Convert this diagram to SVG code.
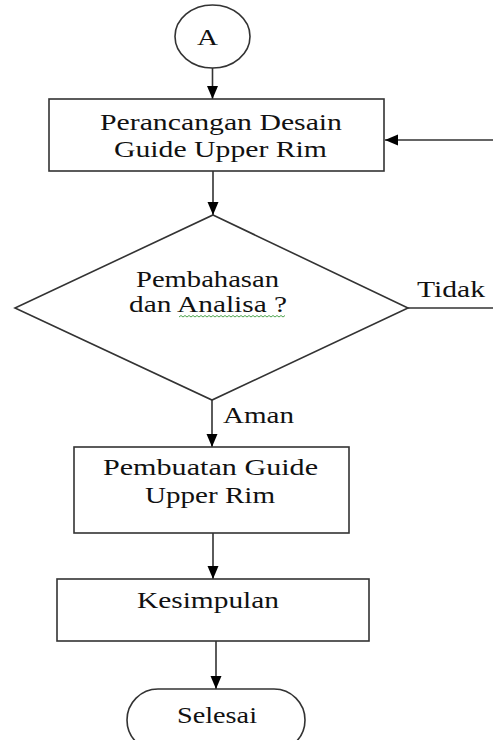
<svg xmlns="http://www.w3.org/2000/svg" width="493" height="740" viewBox="0 0 493 740">
<style>
.sh{fill:#fff;stroke:#333;stroke-width:1.6}
.t{font-family:"Liberation Serif","Times New Roman",serif;font-size:24px;fill:#111}
.c{fill:none;stroke:#333;stroke-width:1.6}
</style>
<defs>
<marker id="ah" markerUnits="userSpaceOnUse" markerWidth="14" markerHeight="14" viewBox="0 0 14 14" refX="13" refY="7" orient="auto">
<path d="M0,1.5 L13,7 L0,12.5 Z" fill="#000"/>
</marker>
</defs>
<rect width="493" height="740" fill="#fff"/>
<g id="connectors">
<path class="c" d="M212.5,68 V99" marker-end="url(#ah)"/>
<path class="c" d="M213,171 V215" marker-end="url(#ah)"/>
<path class="c" d="M212,400 V447" marker-end="url(#ah)"/>
<path class="c" d="M213,533 V579" marker-end="url(#ah)"/>
<path class="c" d="M216,641 V689" marker-end="url(#ah)"/>
<path class="c" d="M408,308 H497 V140 H385" marker-end="url(#ah)"/>
<text class="t" x="417" y="297" textLength="68" lengthAdjust="spacingAndGlyphs">Tidak</text>
<text class="t" x="223" y="423" textLength="71" lengthAdjust="spacingAndGlyphs">Aman</text>
</g>
<g id="start">
<ellipse class="sh" cx="212.5" cy="36.5" rx="37.5" ry="31.5"/>
<text class="t" x="197" y="45" textLength="21" lengthAdjust="spacingAndGlyphs">A</text>
</g>
<g id="perancangan">
<rect class="sh" x="49" y="99" width="335" height="72"/>
<text class="t" x="100" y="130" textLength="242" lengthAdjust="spacingAndGlyphs">Perancangan Desain</text>
<text class="t" x="114" y="157" textLength="213" lengthAdjust="spacingAndGlyphs">Guide Upper Rim</text>
</g>
<g id="pembahasan">
<polygon class="sh" points="213,215 408,308 212,400 15,308"/>
<text class="t" x="136" y="287" textLength="143" lengthAdjust="spacingAndGlyphs">Pembahasan</text>
<text class="t" x="129" y="312" textLength="158" lengthAdjust="spacingAndGlyphs">dan Analisa ?</text>
<path d="M179,317 l2,-1.5 l2,1.5 l2,-1.5 l2,1.5 l2,-1.5 l2,1.5 l2,-1.5 l2,1.5 l2,-1.5 l2,1.5 l2,-1.5 l2,1.5 l2,-1.5 l2,1.5 l2,-1.5 l2,1.5 l2,-1.5 l2,1.5 l2,-1.5 l2,1.5 l2,-1.5 l2,1.5 l2,-1.5 l2,1.5 l2,-1.5 l2,1.5 l2,-1.5 l2,1.5 l2,-1.5 l2,1.5 l2,-1.5 l2,1.5 l2,-1.5 l2,1.5 l2,-1.5 l2,1.5 l2,-1.5 l2,1.5 l2,-1.5 l2,1.5 l2,-1.5 l2,1.5 l2,-1.5 l2,1.5 l2,-1.5 l2,1.5 l2,-1.5 l2,1.5 l2,-1.5 l2,1.5 l2,-1.5 l2,1.5 l2,-1.5" fill="none" stroke="#3a9a3a" stroke-width="0.9"/>
</g>
<g id="pembuatan">
<rect class="sh" x="74" y="447" width="275" height="86"/>
<text class="t" x="103" y="475" textLength="215" lengthAdjust="spacingAndGlyphs">Pembuatan Guide</text>
<text class="t" x="145" y="503" textLength="130" lengthAdjust="spacingAndGlyphs">Upper Rim</text>
</g>
<g id="kesimpulan">
<rect class="sh" x="57" y="579" width="312" height="62"/>
<text class="t" x="137" y="608" textLength="142" lengthAdjust="spacingAndGlyphs">Kesimpulan</text>
</g>
<g id="selesai">
<rect class="sh" x="127" y="689" width="178" height="62" rx="31"/>
<text class="t" x="177" y="723" textLength="80" lengthAdjust="spacingAndGlyphs">Selesai</text>
</g>
</svg>
